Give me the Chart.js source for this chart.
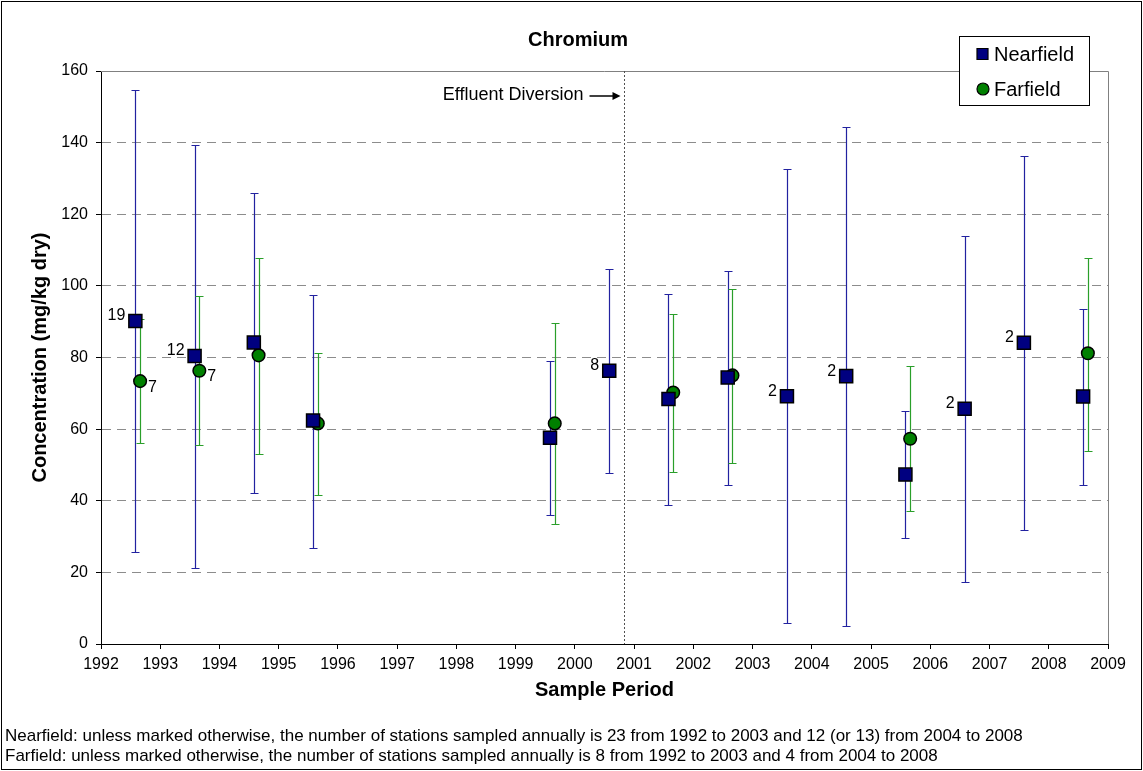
<!DOCTYPE html>
<html>
<head>
<meta charset="utf-8">
<title>Chromium</title>
<script src="https://cdn.jsdelivr.net/npm/chart.js@4.4.1/dist/chart.umd.min.js"></script>
<style>
  html, body { margin: 0; padding: 0; background: #fff; }
  #wrap { position: relative; width: 1143px; height: 771px; }
</style>
</head>
<body>
<div id="wrap"><canvas id="chromiumChart" width="1143" height="771"></canvas></div>
<script>
// Nearfield: sample years, means, error-bar range and station counts (only where marked)
const nearYears = [1992, 1993, 1994, 1995, 1999, 2000, 2001, 2002, 2003, 2004, 2005, 2006, 2007, 2008];
const nearMean = [90.2, 80.4, 84.2, 62.4, 57.6, 76.3, 68.4, 74.4, 69.2, 74.8, 47.3, 65.7, 84.1, 69.1];
const nearHigh = [154.7, 139.2, 125.9, 97.4, 79.1, 104.6, 97.8, 104.2, 132.5, 144.4, 65.2, 113.8, 136.3, 93.6];
const nearLow = [25.7, 21.1, 42.2, 26.9, 35.9, 47.8, 38.8, 44.5, 5.8, 5.0, 29.5, 17.3, 31.7, 44.3];
const nearCounts = ["19", "12", "", "", "", "8", "", "", "2", "2", "", "2", "2", ""];

// Farfield
const farYears = [1992, 1993, 1994, 1995, 1999, 2001, 2002, 2005, 2008];
const farMean = [73.4, 76.3, 80.6, 61.6, 61.6, 70.2, 75.0, 57.3, 81.2];
const farHigh = [90.7, 97.1, 107.9, 81.2, 89.5, 92.2, 99.1, 77.5, 107.9];
const farLow = [56.0, 55.5, 53.1, 41.5, 33.5, 48.0, 50.6, 37.0, 54.0];
const farCounts = ["7", "7", "", "", "", "", "", "", ""];

// where in the year each survey sits on the axis
const nearOffset = 0.58;
const farOffset = 0.66;
const diversionYear = 2000.83;

const yearTicks = [1992, 2009];
const concTicks = [0, 160, 20];

const chartTitle = "Chromium";
const xTitle = "Sample Period";
const yTitle = "Concentration (mg/kg dry)";
const diversionLabel = "Effluent Diversion";
const footnotes = [
  "Nearfield: unless marked otherwise, the number of stations sampled annually is 23 from 1992 to 2003 and 12 (or 13) from 2004 to 2008",
  "Farfield: unless marked otherwise, the number of stations sampled annually is 8 from 1992 to 2003 and 4 from 2004 to 2008",
];

const FONT = "Arial, 'Liberation Sans', sans-serif";
const NEAR_FILL = "#000080";
const FAR_FILL = "#008000";
const NEAR_BAR = "#2222a0";
const FAR_BAR = "#2a9f2a";

function toPoints(years, offset, values) {
  return years.map((yr, i) => ({ x: yr + offset, y: values[i] }));
}

const errorBars = {
  id: "errorBars",
  beforeDatasetsDraw(chart) {
    const { ctx, scales: { x, y } } = chart;
    const sets = [
      { years: nearYears, off: nearOffset, lo: nearLow, hi: nearHigh, color: NEAR_BAR },
      { years: farYears, off: farOffset, lo: farLow, hi: farHigh, color: FAR_BAR },
    ];
    ctx.save();
    ctx.lineWidth = 1.2;
    sets.forEach((s) => {
      ctx.strokeStyle = s.color;
      s.years.forEach((yr, i) => {
        const px = Math.round(x.getPixelForValue(yr + s.off)) + 0.5;
        const top = Math.round(y.getPixelForValue(s.hi[i])) + 0.5;
        const bot = Math.round(y.getPixelForValue(s.lo[i])) + 0.5;
        ctx.beginPath();
        ctx.moveTo(px, top);
        ctx.lineTo(px, bot);
        ctx.moveTo(px - 4, top);
        ctx.lineTo(px + 4, top);
        ctx.moveTo(px - 4, bot);
        ctx.lineTo(px + 4, bot);
        ctx.stroke();
      });
    });
    ctx.restore();
  },
};

const frameAndNotes = {
  id: "frameAndNotes",
  beforeDatasetsDraw(chart) {
    const { ctx, chartArea: a, scales: { x } } = chart;
    ctx.save();
    // plot frame (top and right)
    ctx.strokeStyle = "#808080";
    ctx.lineWidth = 1;
    ctx.beginPath();
    ctx.moveTo(Math.round(a.left), Math.round(a.top) + 0.5);
    ctx.lineTo(Math.round(a.right) + 0.5, Math.round(a.top) + 0.5);
    ctx.lineTo(Math.round(a.right) + 0.5, Math.round(a.bottom));
    ctx.stroke();
    // effluent diversion line
    const dx = Math.round(x.getPixelForValue(diversionYear)) + 0.5;
    ctx.strokeStyle = "#505050";
    ctx.setLineDash([2, 2]);
    ctx.beginPath();
    ctx.moveTo(dx, a.top);
    ctx.lineTo(dx, a.bottom);
    ctx.stroke();
    ctx.setLineDash([]);
    // label + arrow
    ctx.fillStyle = "#000";
    ctx.strokeStyle = "#000";
    ctx.font = "18px " + FONT;
    ctx.textAlign = "right";
    ctx.textBaseline = "middle";
    ctx.fillText(diversionLabel, dx - 41, 95);
    ctx.lineWidth = 1.5;
    ctx.beginPath();
    ctx.moveTo(dx - 35, 96);
    ctx.lineTo(dx - 10, 96);
    ctx.stroke();
    ctx.beginPath();
    ctx.moveTo(dx - 4, 96);
    ctx.lineTo(dx - 12, 92);
    ctx.lineTo(dx - 12, 100);
    ctx.closePath();
    ctx.fill();
    ctx.restore();
  },
  afterDraw(chart) {
    const { ctx, chartArea: a, scales: { x, y } } = chart;
    ctx.save();
    ctx.fillStyle = "#000";
    ctx.textBaseline = "middle";

    // station counts next to the markers
    ctx.font = "16px " + FONT;
    ctx.textAlign = "right";
    nearYears.forEach((yr, i) => {
      if (!nearCounts[i]) return;
      const px = x.getPixelForValue(yr + nearOffset);
      const py = y.getPixelForValue(nearMean[i]);
      ctx.fillText(nearCounts[i], px - 10, py - 5);
    });
    ctx.textAlign = "left";
    farYears.forEach((yr, i) => {
      if (!farCounts[i]) return;
      const px = x.getPixelForValue(yr + farOffset);
      const py = y.getPixelForValue(farMean[i]);
      ctx.fillText(farCounts[i], px + 8, py + 6);
    });

    // titles
    ctx.textAlign = "center";
    ctx.font = "bold 20px " + FONT;
    ctx.fillText(chartTitle, 578, 40);
    ctx.fillText(xTitle, (a.left + a.right) / 2, 690);
    ctx.save();
    ctx.translate(40, (a.top + a.bottom) / 2);
    ctx.rotate(-Math.PI / 2);
    ctx.fillText(yTitle, 0, 0);
    ctx.restore();

    // footnotes
    ctx.textAlign = "left";
    ctx.font = "17px " + FONT;
    footnotes.forEach((t, i) => ctx.fillText(t, 5, 736 + i * 20));

    // legend box
    const lx = 959.5, ly = 36.5, lw = 130, lh = 69;
    ctx.fillStyle = "#fff";
    ctx.fillRect(lx, ly, lw, lh);
    ctx.strokeStyle = "#000";
    ctx.lineWidth = 1;
    ctx.strokeRect(lx, ly, lw, lh);
    chart.data.datasets.forEach((ds, i) => {
      const cy = 54 + i * 35;
      ctx.fillStyle = ds.backgroundColor;
      ctx.strokeStyle = "#000";
      ctx.lineWidth = 1.2;
      ctx.beginPath();
      if (ds.pointStyle === "rect") {
        ctx.rect(977, cy - 5.5, 11, 11);
      } else {
        ctx.arc(983, cy, 6, 0, Math.PI * 2);
      }
      ctx.fill();
      ctx.stroke();
      ctx.fillStyle = "#000";
      ctx.font = "20px " + FONT;
      ctx.fillText(ds.label, 994, cy + 1);
    });

    // outer border
    ctx.strokeStyle = "#000";
    ctx.lineWidth = 1;
    ctx.strokeRect(1.5, 1.5, chart.width - 3, chart.height - 3);
    ctx.restore();
  },
};

const ctx = document.getElementById("chromiumChart").getContext("2d");

new Chart(ctx, {
  type: "scatter",
  data: {
    datasets: [
      {
        label: "Nearfield",
        data: toPoints(nearYears, nearOffset, nearMean),
        pointStyle: "rect",
        pointRadius: 9.2,
        pointHoverRadius: 9.2,
        backgroundColor: NEAR_FILL,
        borderColor: "#000",
        borderWidth: 1.5,
        showLine: false,
      },
      {
        label: "Farfield",
        data: toPoints(farYears, farOffset, farMean),
        pointStyle: "circle",
        pointRadius: 6.3,
        pointHoverRadius: 6.3,
        backgroundColor: FAR_FILL,
        borderColor: "#000",
        borderWidth: 1.5,
        showLine: false,
      },
    ],
  },
  options: {
    responsive: false,
    animation: false,
    devicePixelRatio: 1,
    layout: { padding: { left: 41, right: 35, top: 71, bottom: 87 } },
    plugins: {
      legend: { display: false },
      title: { display: false },
      tooltip: { enabled: false },
    },
    scales: {
      x: {
        type: "linear",
        min: yearTicks[0],
        max: yearTicks[1],
        ticks: {
          stepSize: 1,
          color: "#000",
          font: { family: FONT, size: 16 },
          padding: 6,
          maxRotation: 0,
          autoSkip: false,
          callback: (v) => String(v),
        },
        grid: { drawOnChartArea: false, drawTicks: true, tickLength: 5, tickColor: "#000" },
        border: { color: "#000", width: 1 },
        afterFit: (s) => { s.height = 40; },
      },
      y: {
        min: concTicks[0],
        max: concTicks[1],
        ticks: {
          stepSize: concTicks[2],
          color: "#000",
          font: { family: FONT, size: 16 },
          padding: 8,
        },
        grid: {
          color: (c) => (c.tick && (c.tick.value === concTicks[0] || c.tick.value === concTicks[1]) ? "rgba(0,0,0,0)" : "#8c8c8c"),
          tickLength: 5,
          tickColor: "#000",
          lineWidth: 1,
        },
        border: { color: "#000", width: 1, dash: [9, 6] },
        afterFit: (s) => { s.width = 60; },
      },
    },
  },
  plugins: [errorBars, frameAndNotes],
});
</script>
</body>
</html>
